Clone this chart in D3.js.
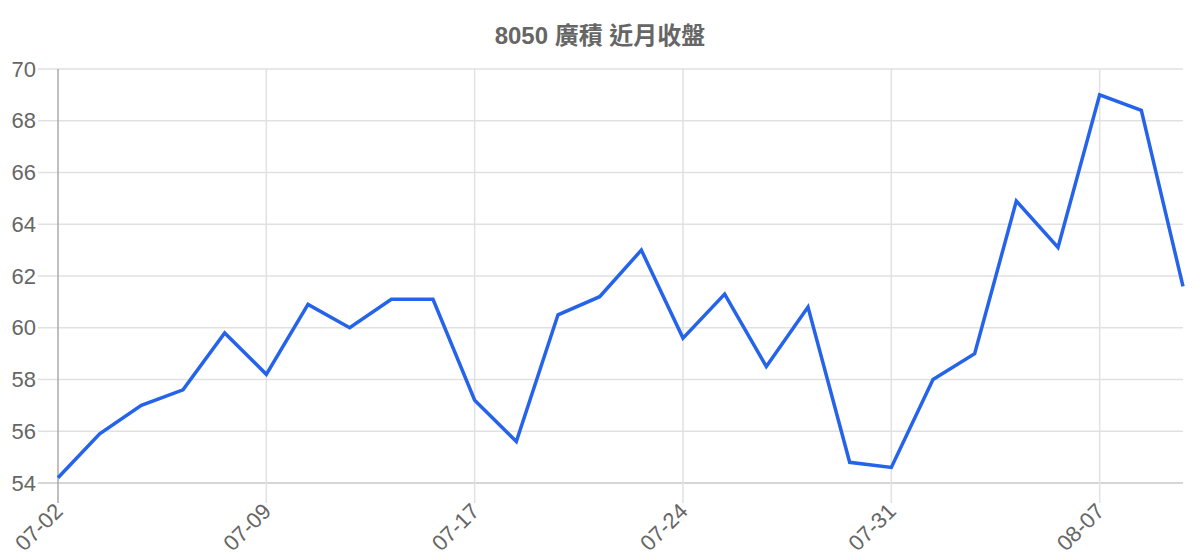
<!DOCTYPE html>
<html>
<head>
<meta charset="utf-8">
<script src="https://cdn.jsdelivr.net/npm/d3@7"></script>
<style>
    body { margin: 0; background: #fff; }
    svg { display: block; font-family: "Liberation Sans", Arial, "Noto Sans CJK TC", sans-serif; }
</style>
</head>
<body>
<svg id="chart" width="1200" height="560"></svg>
<script>
// chart data
var title = "8050 廣積 近月收盤";
var dates = ["07-02", "07-03", "07-04", "07-07", "07-08", "07-09", "07-10", "07-11", "07-14", "07-15",
             "07-17", "07-18", "07-21", "07-22", "07-23", "07-24", "07-25", "07-28", "07-29", "07-30",
             "07-31", "08-01", "08-04", "08-05", "08-06", "08-07", "08-08", "08-11"];
var closes = [54.2, 55.9, 57.0, 57.6, 59.8, 58.2, 60.9, 60.0, 61.1, 61.1,
              57.2, 55.6, 60.5, 61.2, 63.0, 59.6, 61.3, 58.5, 60.8, 54.8,
              54.6, 58.0, 59.0, 64.9, 63.1, 69.0, 68.4, 61.6];
var yTicks = [54, 56, 58, 60, 62, 64, 66, 68, 70];
var xLabelEvery = 5;

window.onload = function () {
    drawChart();
};

function drawChart() {
    var svg = d3.select("#chart");
    var margin = { top: 69, right: 17, bottom: 77, left: 58 };
    var width = 1200 - margin.left - margin.right,
        height = 560 - margin.top - margin.bottom;

    var x = d3.scalePoint()
        .domain(dates)
        .range([0, width]);
    var y = d3.scaleLinear()
        .domain([54, 70])
        .range([height, 0]);

    // title
    svg.append("text")
        .attr("x", 600)
        .attr("y", 44)
        .attr("text-anchor", "middle")
        .attr("font-size", "24px")
        .attr("font-weight", "bold")
        .attr("fill", "#666")
        .text(title);

    var g = svg.append("g")
        .attr("transform", "translate(" + margin.left + "," + margin.top + ")");

    var shown = dates.filter(function (d, i) { return i % xLabelEvery === 0; });

    // grid lines
    g.append("g")
        .selectAll("line")
        .data(yTicks)
        .enter()
        .append("line")
        .attr("x1", -20)
        .attr("x2", width)
        .attr("y1", function (d) { return y(d); })
        .attr("y2", function (d) { return y(d); })
        .attr("stroke", function (d) { return d === 54 ? "#c8c8c8" : "#e1e1e1"; })
        .attr("stroke-width", 1.5);

    g.append("g")
        .selectAll("line")
        .data(shown)
        .enter()
        .append("line")
        .attr("x1", function (d) { return x(d); })
        .attr("x2", function (d) { return x(d); })
        .attr("y1", 0)
        .attr("y2", height + 20)
        .attr("stroke", function (d, i) { return i === 0 ? "#aaa" : "#e1e1e1"; })
        .attr("stroke-width", 1.5);

    // y axis labels
    var yAxis = g.append("g")
        .call(d3.axisLeft(y).tickValues(yTicks).tickSize(0).tickPadding(22));
    yAxis.select(".domain").remove();
    yAxis.selectAll("text")
        .attr("font-size", "22px")
        .attr("fill", "#666")
        .attr("font-family", "Liberation Sans, Arial, sans-serif");

    // x axis labels
    var xAxis = g.append("g")
        .attr("transform", "translate(0," + height + ")")
        .call(d3.axisBottom(x).tickValues(shown).tickSize(0));
    xAxis.select(".domain").remove();
    xAxis.selectAll("text")
        .attr("font-size", "22px")
        .attr("fill", "#666")
        .attr("font-family", "Liberation Sans, Arial, sans-serif")
        .attr("text-anchor", "end")
        .attr("dy", "0.35em")
        .attr("transform", "translate(-2,22) rotate(-45)");

    // line
    var line = d3.line()
        .x(function (d, i) { return x(dates[i]); })
        .y(function (d) { return y(d); });

    g.append("path")
        .datum(closes)
        .attr("fill", "none")
        .attr("stroke", "#2563eb")
        .attr("stroke-width", 3.5)
        .attr("stroke-linejoin", "miter")
        .attr("d", line);
}
</script>
</body>
</html>
